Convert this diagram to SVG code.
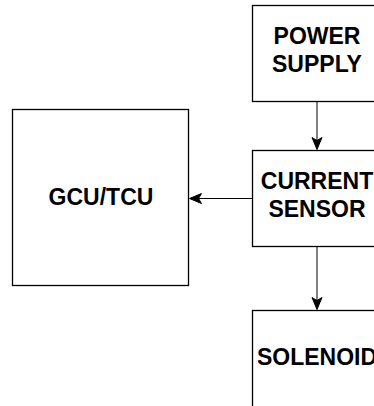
<svg xmlns="http://www.w3.org/2000/svg" width="374" height="406" viewBox="0 0 374 406">
  <style>
    .box { fill: #ffffff; stroke: #000000; stroke-width: 1.3; }
    .lbl { font-family: "Liberation Sans", Arial, Helvetica, sans-serif; font-weight: bold; font-size: 23px; fill: #000000; text-anchor: middle; }
    .edge { stroke: #000000; stroke-width: 1; fill: none; }
    .head { fill: #000000; stroke: #000000; stroke-width: 1; }
  </style>
  <rect width="374" height="406" fill="#ffffff"/>
  <g id="power-supply">
    <rect class="box" x="252.5" y="5.5" width="129" height="96"/>
    <text class="lbl" x="317" y="44">POWER</text>
    <text class="lbl" x="317" y="72">SUPPLY</text>
  </g>
  <g id="current-sensor">
    <rect class="box" x="252.5" y="150.5" width="129" height="96"/>
    <text class="lbl" x="317" y="188.5">CURRENT</text>
    <text class="lbl" x="317" y="216.5">SENSOR</text>
  </g>
  <g id="gcu-tcu">
    <rect class="box" x="12.5" y="109.5" width="176" height="176"/>
    <text class="lbl" x="101" y="205" font-size="24">GCU/TCU</text>
  </g>
  <g id="solenoid">
    <rect class="box" x="252.5" y="310.5" width="129" height="100"/>
    <text class="lbl" x="317" y="365">SOLENOID</text>
  </g>
  <g id="connectors">
    <path class="edge" d="M317 102 V141"/>
    <path class="head" d="M317 149.5 L312 137.5 L317 140.5 L322 137.5 Z"/>
    <path class="edge" d="M252 198.5 H198"/>
    <path class="head" d="M189.5 198.5 L201.5 193.5 L198.5 198.5 L201.5 203.5 Z"/>
    <path class="edge" d="M317 247 V301"/>
    <path class="head" d="M317 309.5 L312 297.5 L317 300.5 L322 297.5 Z"/>
  </g>
</svg>
